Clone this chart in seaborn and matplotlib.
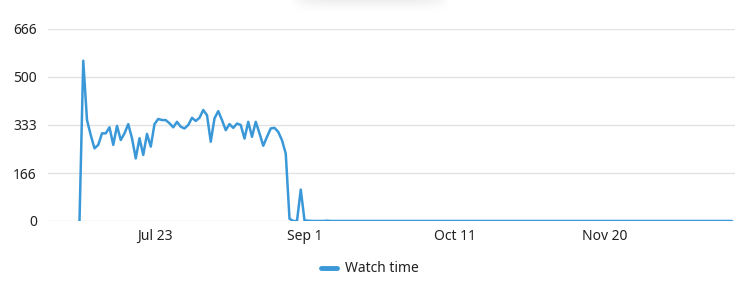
import numpy as np
import pandas as pd
import matplotlib
matplotlib.use("Agg")
import matplotlib.pyplot as plt
import seaborn as sns
from matplotlib.lines import Line2D

start_date = "2023-07-03"
watch_time = [
    0, 556, 350, 298, 252, 264, 304, 304, 325, 264,
    330, 281, 304, 336, 287, 217, 287, 229, 302, 258,
    336, 354, 350, 350, 339, 325, 344, 327, 321, 333,
    358, 347, 358, 385, 367, 275, 356, 381, 350, 315,
    336, 323, 338, 333, 286, 344, 292, 344, 304, 261,
    292, 321, 323, 309, 280, 234, 8, 0, 0, 109,
    2, 1, 0, 0, 0, 0, 1, 0, 0, 0,
    0, 0, 0, 0, 0, 0, 0, 0, 0, 0,
    0, 0, 0, 0, 0, 0, 0, 0, 0, 0,
    0, 0, 0, 0, 0, 0, 0, 0, 0, 0,
    0, 0, 0, 0, 0, 0, 0, 0, 0, 0,
    0, 0, 0, 0, 0, 0, 0, 0, 0, 0,
    0, 0, 0, 0, 0, 0, 0, 0, 0, 0,
    0, 0, 0, 0, 0, 0, 0, 0, 0, 0,
    0, 0, 0, 0, 0, 0, 0, 0, 0, 0,
    0, 0, 0, 0, 0, 0, 0, 0, 0, 0,
    0, 0, 0, 0, 0, 0, 0, 0, 0, 0,
    0, 0, 0, 0, 0,
]
y_ticks = [0, 166, 333, 500, 666]
x_tick_dates = ["2023-07-23", "2023-09-01", "2023-10-11", "2023-11-20"]
x_tick_labels = ["Jul 23", "Sep 1", "Oct 11", "Nov 20"]
series_name = "Watch time"

dates = pd.date_range(start_date, periods=len(watch_time), freq="D")
df = pd.DataFrame({"date": dates, "value": watch_time, "series": series_name})

sns.set_style("white")
plt.rcParams["font.family"] = ["Noto Sans", "DejaVu Sans"]

fig = plt.figure(figsize=(7.54, 2.94), dpi=100)

# faint shadow of a floating card at the top centre
sh = fig.add_axes([290 / 754, 1 - 14 / 294, 160 / 754, 14 / 294])
gx = np.linspace(-1, 1, 200)
gy = np.linspace(0, 1, 20)
X, Y = np.meshgrid(gx, gy)
alpha = np.clip(1 - np.abs(X) ** 6, 0, 1) * np.clip(1 - Y, 0, 1) ** 1.5 * 0.10
img = np.zeros((20, 200, 4))
img[..., :3] = 0.35
img[..., 3] = alpha
sh.imshow(img, aspect="auto", extent=(0, 1, 1, 0))
sh.axis("off")

ax = fig.add_axes([48 / 754, (294 - 221) / 294, (735 - 48) / 754, 192 / 294])

line_color = "#3a98d8"
sns.lineplot(data=df, x="date", y="value", hue="series", palette=[line_color],
             linewidth=1.8, ax=ax, legend=False)

x0 = pd.Timestamp(start_date) - pd.Timedelta(days=8.4)
x1 = pd.Timestamp(start_date) + pd.Timedelta(days=174.8)
ax.set_xlim(x0, x1)
ax.set_ylim(0, 666)
ax.set_yticks(y_ticks)
ax.set_yticklabels([str(v) for v in y_ticks])
ax.set_xticks([pd.Timestamp(d) for d in x_tick_dates])
ax.set_xticklabels(x_tick_labels)
ax.grid(axis="y", color="#e3e3e3", linewidth=1)
ax.grid(axis="x", visible=False)
for s in ax.spines.values():
    s.set_visible(False)
ax.tick_params(axis="both", length=0, labelsize=10, colors="#222222")
ax.tick_params(axis="y", pad=8)
ax.tick_params(axis="x", pad=6)
ax.set_xlabel("")
ax.set_ylabel("")

handle = Line2D([0], [0], color=line_color, linewidth=3.5, solid_capstyle="round")
fig.legend([handle], [series_name], loc="center", bbox_to_anchor=(370 / 754, 1 - 269 / 294),
           frameon=False, handlelength=1.1, handletextpad=0.6, fontsize=10,
           labelcolor="#222222")

fig.savefig("out.png", dpi=100, facecolor="white")
